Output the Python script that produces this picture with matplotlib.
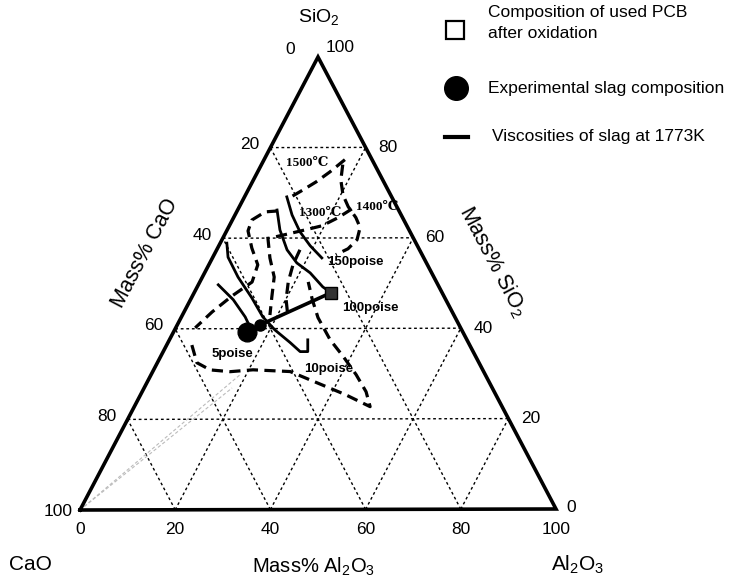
import numpy as np
import matplotlib
matplotlib.use("Agg")
import matplotlib.pyplot as plt

plt.rcParams['font.family'] = ['Liberation Sans', 'DejaVu Sans']
plt.rcParams['mathtext.fontset'] = 'custom'
plt.rcParams['mathtext.rm'] = 'Liberation Sans'

# compositions in mass% : (Al2O3, SiO2), CaO is the rest
pcb_al, pcb_si = [28.8], [47.9]
slag_al, slag_si = [15.4], [39.3]
tie_al = [28.8, 17.4]
tie_si = [47.9, 40.8]

# viscosity iso-lines at 1773K
visc_5_al = [4.2, 9.0, 13.4, 15.5]
visc_5_si = [49.7, 46.4, 42.6, 40.4]
visc_10_al = [1.4, 3.2, 7.5, 12.7, 17.1, 21.1, 25.7, 28.8, 30.4, 29.1]
visc_10_si = [58.9, 55.8, 51.4, 46.8, 42.6, 39.7, 36.9, 34.9, 34.9, 37.5]
visc_100_al = [8.3, 11.1, 14.8, 18.3, 22.2, 26.4, 28.8]
visc_100_si = [66.2, 61.8, 57.4, 54.5, 52.3, 49.2, 47.9]
visc_150_al = [8.9, 12.0, 15.5, 19.2, 23.0]
visc_150_si = [69.1, 65.1, 61.4, 58.3, 55.6]

# liquidus isotherms
iso_1500_al = [17.0, 15.2, 13.4, 11.5, 9.8]
iso_1500_si = [77.3, 74.6, 72.4, 70.6, 69.1]
iso_1400_al = [17.1, 18.4, 20.5, 22.9, 25.7, 27.7, 28.4, 27.5, 25.6]
iso_1400_si = [76.2, 72.8, 69.5, 66.9, 64.5, 62.3, 59.6, 57.6, 56.3]
iso_1300_al = [23.9, 22.0, 19.5, 16.4, 13.2, 9.9]
iso_1300_si = [66.4, 64.5, 62.7, 61.8, 60.9, 60.0]
iso_left_al = [8.6, 6.0, 4.1, 4.5, 7.2, 10.3, 11.0, 8.3, 5.9, 4.1]
iso_left_si = [66.0, 65.8, 64.0, 61.6, 57.8, 54.1, 50.3, 47.2, 43.7, 40.2]
iso_low_al = [5.3, 8.3, 11.9, 16.3, 20.9, 28.9, 35.8, 43.0, 49.6, 47.1, 43.1, 38.4, 33.8, 28.8, 25.6, 22.8]
iso_low_si = [36.4, 32.5, 30.9, 30.5, 30.9, 30.5, 28.0, 25.4, 22.7, 26.0, 29.8, 33.8, 37.5, 42.4, 46.4, 50.3]
mid1_al = [9.3, 12.1, 15.1, 16.8, 18.4]
mid1_si = [60.3, 55.6, 51.4, 47.0, 43.0]
mid2_al = [17.5, 17.7, 18.6, 20.1, 22.5]
mid2_si = [57.4, 54.1, 50.3, 46.4, 42.4]

# faint lines from the CaO corner
faint_al = [[0, 18.7], [0, 18.5]]
faint_si = [[0, 29.8], [0, 26.9]]

visc_labels = ['5poise', '10poise', '100poise', '150poise']
visc_lab_al = [14.9, 36.8, 38.7, 30.4]
visc_lab_si = [34.4, 31.1, 44.4, 54.7]
temp_labels = ['1500℃', '1400℃', '1300℃']
temp_lab_al = [9.4, 28.9, 17.6]
temp_lab_si = [76.6, 66.9, 65.6]

ticks = [0, 20, 40, 60, 80, 100]

# corner positions of the triangle on the canvas
XC, YC = 80, 510
XA, YA = 556, 509
XS, YS = 318, 57


def tern(al, si):
    a = np.asarray(al, dtype=float) / 100
    s = np.asarray(si, dtype=float) / 100
    return XC + (XA - XC) * a + (XS - XC) * s, YC + (YA - YC) * a + (YS - YC) * s


fig = plt.figure(figsize=(7.42, 5.8), dpi=100)
ax = fig.add_axes([0, 0, 1, 1])
ax.set_xlim(0, 742)
ax.set_ylim(580, 0)
ax.axis('off')

# grid
for k in ticks[1:-1]:
    for al, si in (([0, 100 - k], [k, k]), ([k, k], [0, 100 - k]), ([100 - k, 0], [0, 100 - k])):
        x, y = tern(al, si)
        ax.plot(x, y, color='black', lw=1.0, ls=(0, (2, 2)), zorder=1)

# edges
x, y = tern([0, 100, 0, 0], [0, 0, 100, 0])
ax.plot(x, y, color='black', lw=2.6, solid_joinstyle='miter', zorder=5)

# faint lines
for al, si in zip(faint_al, faint_si):
    x, y = tern(al, si)
    ax.plot(x, y, color='#bbbbbb', lw=0.8, ls=(0, (3, 2)), zorder=2)

# isotherms
for al, si in ((iso_1500_al, iso_1500_si), (iso_1400_al, iso_1400_si), (iso_1300_al, iso_1300_si),
               (iso_left_al, iso_left_si), (iso_low_al, iso_low_si), (mid1_al, mid1_si), (mid2_al, mid2_si)):
    x, y = tern(al, si)
    ax.plot(x, y, color='black', lw=2.3, ls=(0, (3.5, 2)), zorder=3)

# viscosity lines
for al, si in ((visc_5_al, visc_5_si), (visc_10_al, visc_10_si), (visc_100_al, visc_100_si), (visc_150_al, visc_150_si)):
    x, y = tern(al, si)
    ax.plot(x, y, color='black', lw=2.0, zorder=4)

x, y = tern(tie_al, tie_si)
ax.plot(x, y, color='black', lw=2.6, zorder=4)
ax.plot(x[-1:], y[-1:], 'o', color='black', ms=8, zorder=4)

x, y = tern(slag_al, slag_si)
ax.plot(x, y, 'o', color='black', ms=13.5, zorder=6)
x, y = tern(pcb_al, pcb_si)
ax.plot(x, y, 's', mfc='#333333', mec='black', ms=8.5, zorder=6)

for lab, al, si in zip(visc_labels, visc_lab_al, visc_lab_si):
    x, y = tern(al, si)
    ax.text(x, y, lab, fontsize=9.5, fontweight='bold', ha='center', va='center', zorder=7)
for lab, al, si in zip(temp_labels, temp_lab_al, temp_lab_si):
    x, y = tern(al, si)
    ax.text(x, y, lab, fontsize=9.5, fontweight='bold', ha='center', va='center',
            family=['Liberation Serif', 'DejaVu Serif'], zorder=7)

# tick labels
for v in ticks:
    x, y = tern(v, 0)
    ax.text(x, y + 20, str(v), fontsize=12.5, ha='center', va='center')
    x, y = tern(0, 100 - v)
    if v == 100:
        ax.text(x - 7, y + 2, str(v), fontsize=12.5, ha='right', va='center')
    elif v == 0:
        ax.text(x - 28, y - 7, str(v), fontsize=12.5, ha='center', va='center')
    else:
        ax.text(x - 21, y - 3, str(v), fontsize=12.5, ha='center', va='center')
    x, y = tern(100 - v, v)
    if v == 0:
        ax.text(x + 10, y - 1, str(v), fontsize=12.5, ha='left', va='center')
    elif v == 100:
        ax.text(x + 22, y - 9, str(v), fontsize=12.5, ha='center', va='center')
    else:
        ax.text(x + 22, y, str(v), fontsize=12.5, ha='center', va='center')

ax.text(319, 18, 'SiO$_2$', fontsize=14, ha='center', va='center')
ax.text(30, 565, 'CaO', fontsize=15, ha='center', va='center')
ax.text(578, 565, 'Al$_2$O$_3$', fontsize=15, ha='center', va='center')
ax.text(314, 567, 'Mass% Al$_2$O$_3$', fontsize=14.5, ha='center', va='center')
ax.text(145, 253, 'Mass% CaO', fontsize=15.5, ha='center', va='center', rotation=62.3, rotation_mode='anchor')
ax.text(493, 262, 'Mass% SiO$_2$', fontsize=15.5, ha='center', va='center', rotation=-62.3, rotation_mode='anchor')

# legend
ax.plot([455], [30], 's', mfc='white', mec='black', mew=1.6, ms=13)
ax.text(488, 13, 'Composition of used PCB', fontsize=12.5, ha='left', va='center')
ax.text(488, 34, 'after oxidation', fontsize=12.5, ha='left', va='center')
ax.plot([456], [88], 'o', color='black', ms=17)
ax.text(488, 88, 'Experimental slag composition', fontsize=12.5, ha='left', va='center')
ax.plot([445, 468], [137, 137], color='black', lw=3)
ax.text(492, 137, 'Viscosities of slag at 1773K', fontsize=12.5, ha='left', va='center')

fig.savefig('out.png', dpi=100)
